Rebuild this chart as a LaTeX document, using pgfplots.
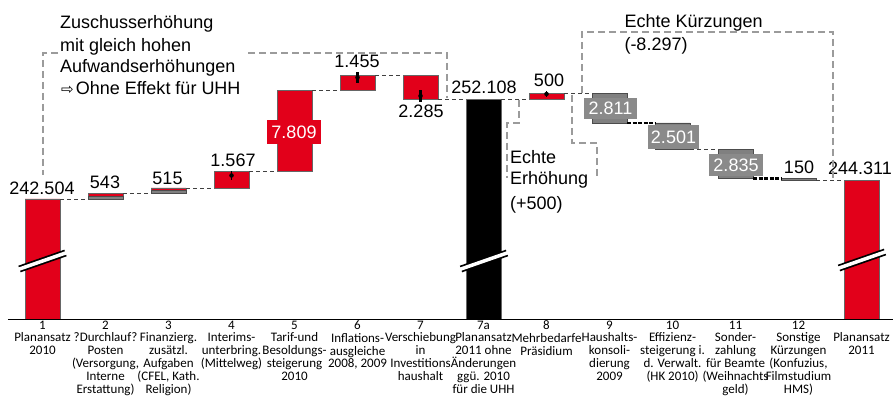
\documentclass[border=0pt]{standalone}
\usepackage{fontspec}
\setmainfont{Liberation Sans}
\newfontfamily\tickfont{Carlito}
\newfontfamily\symfont{DejaVu Sans}
\usepackage{pgfplots}
\usepackage{pgfplotstable}
\pgfplotsset{compat=1.18}
\definecolor{uhhred}{RGB}{226,0,26}
\definecolor{bargray}{RGB}{128,128,128}
\definecolor{labgray}{RGB}{138,138,138}
\definecolor{boxgray}{RGB}{155,155,155}

% values in thousand EUR; base = invisible offset of floating bars
\pgfplotstableread{
x base gray red black
0 0 0 242.504 0
1 242.504 0.27 0.273 0
2 243.047 0.25 0.265 0
3 243.562 0 1.567 0
4 245.129 0 7.809 0
5 252.938 0 1.455 0
6 252.108 0 2.285 0
7 0 0 0 252.108
8 252.108 0 0.5 0
9 249.797 2.811 0 0
10 247.296 2.501 0 0
11 244.461 2.835 0 0
12 244.311 0.15 0 0
13 0 0 244.311 0
}\wf

\pgfplotsset{wfaxis/.style={scale only axis, width=885pt, height=319pt,
  at={(8pt,90pt)}, anchor=south west,
  xmin=-0.548, xmax=13.5, ymin=230.977, ymax=261.612, clip mode=individual}}

\begin{document}
\begin{tikzpicture}
\useasboundingbox (0pt,0pt) rectangle (893pt,409pt);
\begin{axis}[wfaxis, ybar stacked, bar width=35pt,
  axis x line=bottom, axis y line=none, ytick=\empty,
  x axis line style={-, black, line width=0.8pt},
  xtick={0,...,13}, major tick length=0pt,
  xticklabel style={font={\tickfont\fontsize{13}{12.8}\selectfont}, align=center, anchor=north, inner sep=0pt, yshift=-1.5pt},
  xticklabels={
    {1\\Planansatz\\2010},
    {2\\?Durchlauf?\\Posten\\(Versorgung,\\Interne\\Erstattung)},
    {3\\Finanzierg.\\zusätzl.\\Aufgaben\\(CFEL, Kath.\\Religion)},
    {4\\Interims-\\unterbring.\\(Mittelweg)},
    {5\\Tarif-und\\Besoldungs-\\steigerung\\2010},
    {6\\Inflations-\\ausgleiche\\2008, 2009},
    {7\\Verschiebung\\in\\Investitions\\haushalt},
    {7a\\Planansatz\\2011 ohne\\Änderungen\\ggü. 2010\\für die UHH},
    {8\\Mehrbedarfe\\Präsidium},
    {9\\Haushalts-\\konsoli-\\dierung\\2009},
    {10\\Effizienz-\\steigerung i.\\d. Verwalt.\\(HK 2010)},
    {11\\Sonder-\\zahlung\\für Beamte\\(Weihnachts\\geld)},
    {12\\Sonstige\\Kürzungen\\(Konfuzius,\\Filmstudium\\HMS)},
    {\phantom{1}\\Planansatz\\2011}}]
\addplot[draw=none, fill=none] table[x=x, y=base]{\wf};
\addplot[fill=bargray, draw=black!70, line width=0.6pt] table[x=x, y=gray]{\wf};
\addplot[fill=uhhred, draw=black!60, line width=0.6pt] table[x=x, y=red]{\wf};
\addplot[fill=black, draw=black!60, line width=0.6pt] table[x=x, y=black]{\wf};
\end{axis}

\begin{axis}[wfaxis, hide axis]
\pgfplotsset{thin con/.style={black!75, line width=0.8pt, dash pattern=on 4pt off 3pt, mark=none},
  thick con/.style={black, line width=2.5pt, dash pattern=on 4pt off 1.5pt, mark=none}}
\addplot[thin con] coordinates {(0.278,242.504) (0.722,242.504)};
\addplot[thin con] coordinates {(1.278,243.047) (1.722,243.047)};
\addplot[thin con] coordinates {(2.278,243.562) (2.722,243.562)};
\addplot[thin con] coordinates {(3.278,245.129) (3.722,245.129)};
\addplot[thin con] coordinates {(4.278,252.938) (4.722,252.938)};
\addplot[thin con] coordinates {(5.278,254.393) (5.722,254.393)};
\addplot[thin con] coordinates {(6.278,252.108) (6.722,252.108)};
\addplot[thin con] coordinates {(7.278,252.108) (7.722,252.108)};
\addplot[thin con] coordinates {(8.278,252.608) (8.722,252.608)};
\addplot[thick con] coordinates {(9.278,249.797) (9.722,249.797)};
\addplot[thin con] coordinates {(10.278,247.296) (10.722,247.296)};
\addplot[thick con] coordinates {(11.278,244.461) (11.722,244.461)};
\addplot[thin con] coordinates {(12.278,244.311) (12.722,244.311)};
% small marks inside bars
\addplot[black, only marks, mark=none, error bars/.cd, y dir=both, y explicit, error mark=none,
  error bar style={line width=2.5pt}] coordinates {(5,254.17) +- (0,0.53) (6,252.40) +- (0,0.58)};
\addplot[black, only marks, mark=none, error bars/.cd, y dir=both, y explicit, error mark=none,
  error bar style={line width=0.9pt}] coordinates {(3,244.76) +- (0,0.43) (8,252.59) +- (0,0.29)};
\end{axis}

\begin{scope}[x=1pt, y=1pt]
% axis break marks
\foreach \cx/\cy in {42.5/148, 484/148, 862/149}{
  \draw[black, line width=7pt] (\cx-23,\cy-8) -- (\cx+23,\cy+8);
  \draw[white, line width=3.5pt] (\cx-25,\cy-8.7) -- (\cx+25,\cy+8.7);
}
\tikzset{vlab/.style={font=\fontsize{18}{20}\selectfont, inner sep=0pt},
  blab/.style={vlab, text=white, minimum width=#1}}
\node[vlab] at (42,220.5) {242.504};
\node[vlab] at (105,226.5) {543};
\node[vlab] at (167.5,230.5) {515};
\node[vlab] at (233,248.5) {1.567};
\node[blab=54pt, fill=uhhred, minimum height=24pt] at (294,277) {7.809};
\node[vlab] at (357,348) {1.455};
\node[vlab] at (421,297.5) {2.285};
\node[vlab] at (484,321.5) {252.108};
\node[vlab] at (549,328.5) {500};
\node[blab=53pt, fill=labgray, minimum height=21pt] at (610.5,300.5) {2.811};
\node[blab=51pt, fill=labgray, minimum height=24pt] at (673.5,272) {2.501};
\node[blab=54pt, fill=labgray, minimum height=22pt] at (736,244) {2.835};
\node[vlab] at (799,241.5) {150};
\node[vlab] at (860,240.5) {244.311};
% dashed annotation frames
\tikzset{frame/.style={boxgray, line width=2.5pt, dash pattern=on 7pt off 4pt}}
\draw[frame] (58,356) -- (43,356) -- (43,234);
\draw[frame] (248,356) -- (447,356) -- (447,311);
\draw[frame] (519,309) -- (519,286) -- (507,286) -- (507,231);
\draw[frame] (572,314) -- (572,266) -- (597,266) -- (597,231);
\draw[frame] (582,316) -- (582,377) -- (833,377) -- (833,228);
% annotation texts
\tikzset{atext/.style={anchor=base west, inner sep=0pt, font=\fontsize{18}{20}\selectfont}}
\node[atext] at (60,380.7) {Zuschusserhöhung};
\node[atext] at (60,357.3) {mit gleich hohen};
\node[atext] at (60,336.7) {Aufwandserhöhungen};
\node[atext] at (61,314) {{\symfont\fontsize{15}{16}\selectfont ⇨}\hspace{2pt}Ohne Effekt für UHH};
\node[atext] at (624.3,381.7) {Echte Kürzungen};
\node[atext] at (624.3,358.3) {(-8.297)};
\node[atext] at (510,245.7) {Echte};
\node[atext] at (510,224.5) {Erhöhung};
\node[atext] at (510,199.7) {(+500)};
\end{scope}
\end{tikzpicture}
\end{document}
